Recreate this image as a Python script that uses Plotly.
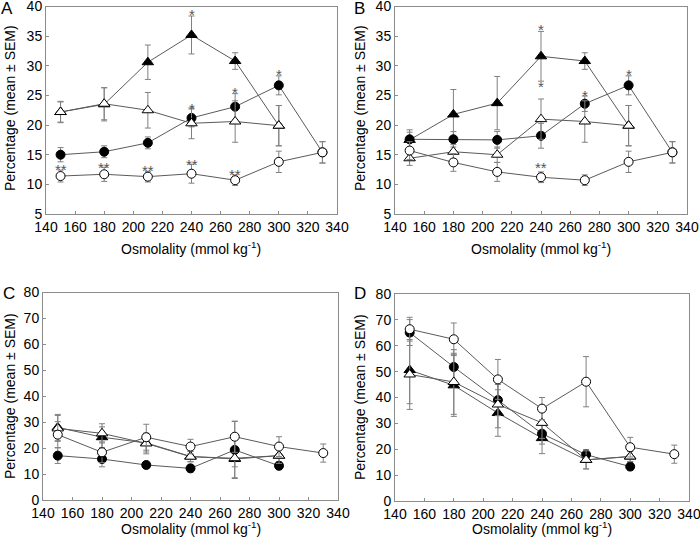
import plotly.graph_objects as go

OSM = [150, 180, 210, 240, 270, 300, 330]

# Panel A
A_fc = [15.0, 15.5, 17.0, 21.2, 23.1, 26.7, 15.4]
A_fc_err = [1.2, 1.0, 1.0, 1.5, 2.2, 1.6, 1.8]
A_oc = [11.4, 11.7, 11.3, 11.8, 10.7, 13.8, 15.4]
A_oc_err = [1.0, 1.2, 0.9, 1.6, 0.9, 1.8, 1.8]
A_ot = [22.2, 23.6, 22.5, 20.3, 20.6, 19.9]
A_ot_err = [1.8, 2.7, 3.0, 2.6, 3.5, 3.4]
A_ft = [22.2, 23.5, 30.6, 35.2, 30.8, 19.9]
A_ft_err = [1.7, 2.8, 2.9, 3.2, 1.4, 3.4]

# Panel B
B_fc = [17.6, 17.6, 17.5, 18.2, 23.6, 26.7, 15.4]
B_fc_err = [1.6, 1.3, 1.4, 2.1, 1.3, 1.6, 1.8]
B_oc = [15.7, 13.7, 12.1, 11.2, 10.7, 13.8, 15.4]
B_oc_err = [1.5, 1.5, 1.6, 0.9, 0.9, 1.8, 1.8]
B_ot = [14.4, 15.5, 15.0, 21.0, 20.6, 19.9]
B_ot_err = [1.2, 1.2, 1.3, 3.4, 3.5, 3.4]
B_ft = [17.5, 21.8, 23.7, 31.6, 30.8, 19.9]
B_ft_err = [1.3, 4.2, 4.5, 4.2, 1.4, 3.4]

# Panel C
C_fc = [17.1, 15.8, 13.5, 12.2, 19.3, 13.2]
C_fc_err = [3.0, 3.0, 1.2, 1.5, 11.0, 1.5]
C_oc = [25.2, 18.4, 24.2, 20.6, 24.4, 20.6, 18.1]
C_oc_err = [5.0, 4.0, 5.0, 2.8, 6.0, 3.8, 3.5]
C_ot = [27.6, 25.7, 21.8, 16.7, 16.1, 17.1]
C_ot_err = [5.0, 3.7, 4.0, 2.0, 7.5, 3.0]
C_ft = [28.0, 24.2, 22.0, 16.8, 15.8, 17.1]
C_ft_err = [5.0, 4.0, 3.5, 2.0, 3.0, 3.0]

# Panel D
D_fc = [65.1, 51.8, 39.0, 26.0, 17.9, 13.3]
D_fc_err = [5.0, 5.3, 6.0, 4.0, 2.0, 1.5]
D_oc = [66.4, 62.5, 47.0, 35.7, 46.1, 20.8, 18.1]
D_oc_err = [4.6, 6.3, 7.7, 4.3, 9.7, 3.8, 3.5]
D_ot = [48.9, 46.0, 37.3, 30.2, 15.9, 17.2]
D_ot_err = [13.5, 12.5, 9.0, 6.0, 3.5, 2.0]
D_ft = [50.6, 44.7, 34.0, 24.3, 15.9, 17.2]
D_ft_err = [13.0, 12.0, 9.0, 6.0, 3.5, 2.0]

# Significance marks: (panel, x, y, text)
STARS = [
    ("A", 240, 39.4, "*"), ("A", 240, 23.5, "*"), ("A", 270, 26.1, "*"), ("A", 300, 29.2, "*"),
    ("A", 150, 13.1, "**"), ("A", 180, 13.6, "**"), ("A", 210, 13.0, "**"),
    ("A", 240, 14.0, "**"), ("A", 270, 12.3, "**"),
    ("B", 240, 36.8, "*"), ("B", 240, 27.1, "*"), ("B", 270, 25.7, "*"), ("B", 300, 29.2, "*"),
    ("B", 240, 13.5, "**"),
]

LINE = "#5a5a5a"
ERR = "#808080"
FRAME = "#8c8c8c"
FONT = "Liberation Sans, Arial, sans-serif"

panels = {
    "A": dict(ax="", data=[(A_ft, A_ft_err, "triangle-up", "black"), (A_fc, A_fc_err, "circle", "black"),
                            (A_ot, A_ot_err, "triangle-up", "white"), (A_oc, A_oc_err, "circle", "white")]),
    "B": dict(ax="2", data=[(B_ft, B_ft_err, "triangle-up", "black"), (B_fc, B_fc_err, "circle", "black"),
                             (B_ot, B_ot_err, "triangle-up", "white"), (B_oc, B_oc_err, "circle", "white")]),
    "C": dict(ax="3", data=[(C_ft, C_ft_err, "triangle-up", "black"), (C_fc, C_fc_err, "circle", "black"),
                             (C_ot, C_ot_err, "triangle-up", "white"), (C_oc, C_oc_err, "circle", "white")]),
    "D": dict(ax="4", data=[(D_ft, D_ft_err, "triangle-up", "black"), (D_fc, D_fc_err, "circle", "black"),
                             (D_ot, D_ot_err, "triangle-up", "white"), (D_oc, D_oc_err, "circle", "white")]),
}

fig = go.Figure()
for name, p in panels.items():
    for vals, errs, sym, fill in p["data"]:
        n = len(vals)
        fig.add_trace(go.Scatter(
            x=OSM[:n], y=vals, xaxis="x" + p["ax"], yaxis="y" + p["ax"],
            mode="lines+markers",
            line=dict(color=LINE, width=1),
            marker=dict(symbol=sym, size=9 if sym == "circle" else 10, color=fill,
                        line=dict(color="black", width=1)),
            error_y=dict(type="data", array=errs, visible=True, color=ERR, thickness=1, width=3),
            showlegend=False,
        ))

W, H = 700, 539
def px(x):
    return x / W
def py(y):
    return 1 - y / H

domains = {
    "A": ([46, 337], [214, 6.5], [5, 40], 5),
    "B": ([395, 687], [214, 6.5], [5, 40], 5),
    "C": ([43, 338], [500, 292.5], [0, 80], 10),
    "D": ([395, 689], [501, 294], [0, 80], 10),
}

layout = dict(width=W, height=H, margin=dict(l=0, r=0, t=0, b=0, autoexpand=False),
              paper_bgcolor="white", plot_bgcolor="white",
              font=dict(family=FONT, size=14, color="black"))
for name, (xd, yd, yr, dt) in domains.items():
    ax = panels[name]["ax"]
    common = dict(showline=True, mirror=True, linecolor=FRAME, linewidth=1, showgrid=False,
                  zeroline=False, ticks="inside", ticklen=3, tickcolor=FRAME, automargin=False,
                  ticklabeloverflow="allow",
                  tickfont=dict(family=FONT, size=14, color="black"))
    layout["xaxis" + ax] = dict(domain=[px(xd[0]), px(xd[1])], range=[140, 340], dtick=20,
                                tick0=140, anchor="y" + ax, **common)
    layout["yaxis" + ax] = dict(domain=[py(yd[0]), py(yd[1])], range=yr, dtick=dt,
                                anchor="x" + ax, **common)
fig.update_layout(**layout)

annotations = []
def paper_text(text, x, y, size, angle=0):
    return dict(text=text, x=px(x), y=py(y), xref="paper", yref="paper", xanchor="center",
                yanchor="middle", textangle=angle, showarrow=False,
                font=dict(size=size, family=FONT, color="black"))

letters = {"A": (7, 9), "B": (360, 9), "C": (9, 293), "D": (360, 293)}
for k, (lx, ly) in letters.items():
    annotations.append(paper_text(k, lx, ly, 17))
ytitle = {"A": (10, 108), "B": (360, 108), "C": (10, 396), "D": (360, 397)}
for k, (tx, ty) in ytitle.items():
    annotations.append(paper_text("Percentage (mean ± SEM)", tx, ty, 14, -90))
xtitle = {"A": (191, 248), "B": (541, 248), "C": (191, 528), "D": (542, 528)}
for k, (tx, ty) in xtitle.items():
    annotations.append(paper_text("Osmolality (mmol kg<sup>-1</sup>)", tx, ty, 14))
for panel, sx, sy, txt in STARS:
    ax = panels[panel]["ax"]
    annotations.append(dict(text=txt, x=sx, y=sy, xref="x" + ax, yref="y" + ax, showarrow=False,
                            xanchor="center", yanchor="middle",
                            yshift=-4, font=dict(size=15, family=FONT, color="#555555")))
fig.update_layout(annotations=annotations)

fig.write_html("out.html", config={"displayModeBar": False},
               post_script="document.body.style.margin='0';")
